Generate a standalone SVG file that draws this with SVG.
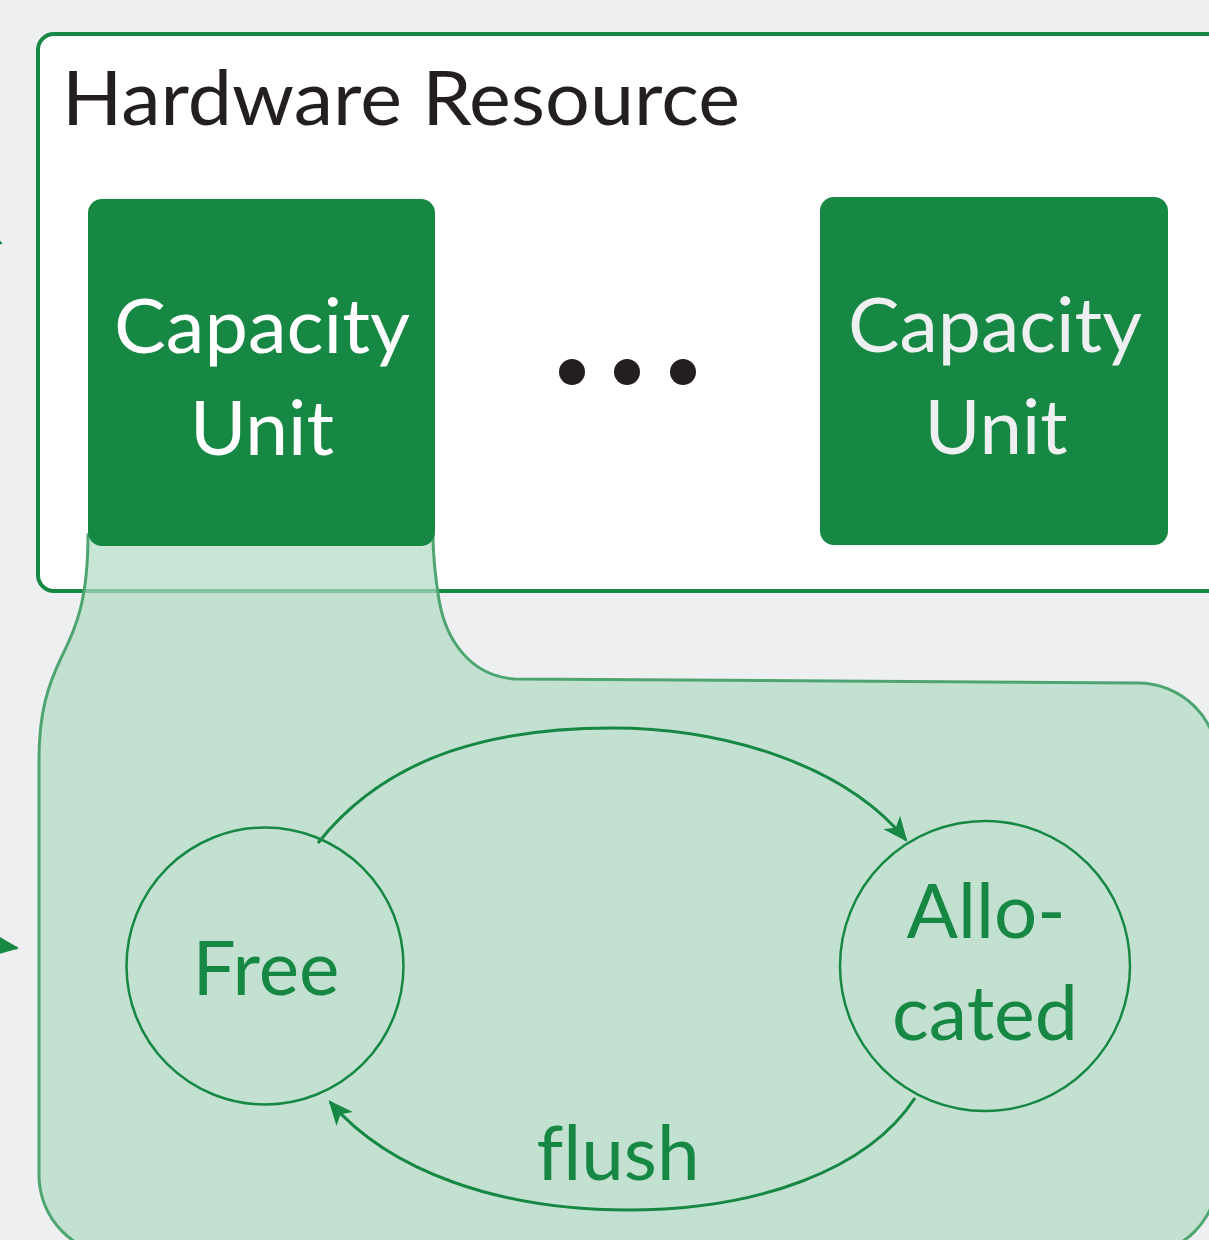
<svg xmlns="http://www.w3.org/2000/svg" width="1209" height="1240" viewBox="0 0 1209 1240">
  <style>
    .lbl { font-family: Lato, "Open Sans", "Liberation Sans", sans-serif; font-size: 76px; text-anchor: middle; font-variant-ligatures: none; }
    .unit { fill: #168844; }
    .state { fill: none; stroke: #168844; stroke-width: 2.5; }
    .edge { fill: none; stroke: #168844; stroke-width: 3; }
  </style>
  <defs>
    <marker id="arrow" markerUnits="userSpaceOnUse" markerWidth="30" markerHeight="30" viewBox="-24 -12 28 24" refX="0" refY="0" orient="auto">
      <path d="M 2 0 L -21 -10 L -15 0 L -21 10 Z" fill="#168844"/>
    </marker>
  </defs>

  <!-- canvas -->
  <rect x="0" y="0" width="1209" height="1240" fill="#eeeff1"/>

  <!-- outer hardware container -->
  <g id="hardware-resource">
    <rect x="38" y="34" width="1200" height="557" rx="16" fill="#ffffff" stroke="#168844" stroke-width="4"/>
    <text x="62" y="125" font-family="Lato, 'Open Sans', 'Liberation Sans', sans-serif" font-size="76" fill="#231f20" textLength="678" lengthAdjust="spacingAndGlyphs">Hardware Resource</text>
  </g>

  <!-- magnified view of one unit -->
  <g id="unit-detail">
    <path d="M 88 535 C 88 600 76 628 62 656 C 48 685 39 712 39 760 L 39 1175 A 80 80 0 0 0 119 1255 L 1138 1255 A 80 80 0 0 0 1218 1175 L 1218 763 A 80 80 0 0 0 1138 683 L 515 679 C 470 676 446 640 439 600 C 435 575 433 555 433 535 Z" fill="#b0dbc3" fill-opacity="0.7" stroke="#4fa571" stroke-width="3"/>
  </g>

  <g id="capacity-unit-1">
    <rect class="unit" x="88" y="199" width="347" height="347" rx="14"/>
    <text class="lbl" x="262" y="353" fill="#ffffff" textLength="296" lengthAdjust="spacingAndGlyphs">Capacity</text>
    <text class="lbl" x="262" y="455" fill="#ffffff" textLength="144" lengthAdjust="spacingAndGlyphs">Unit</text>
  </g>

  <g id="ellipsis">
    <circle cx="572" cy="372" r="13" fill="#231f20"/>
    <circle cx="627" cy="372" r="13" fill="#231f20"/>
    <circle cx="683" cy="372" r="13" fill="#231f20"/>
  </g>

  <g id="capacity-unit-n">
    <rect class="unit" x="820" y="197" width="348" height="348" rx="14"/>
    <text class="lbl" x="995" y="352" fill="#eeeff1" textLength="294" lengthAdjust="spacingAndGlyphs">Capacity</text>
    <text class="lbl" x="996" y="454" fill="#eeeff1" textLength="143" lengthAdjust="spacingAndGlyphs">Unit</text>
  </g>

  <g id="state-free">
    <circle class="state" cx="265" cy="966" r="138.5"/>
    <text class="lbl" x="266" y="995" fill="#168844" textLength="147" lengthAdjust="spacingAndGlyphs">Free</text>
  </g>

  <g id="state-allocated">
    <circle class="state" cx="985" cy="966" r="145"/>
    <text class="lbl" x="986" y="938" fill="#168844" textLength="159" lengthAdjust="spacingAndGlyphs">Allo-</text>
    <text class="lbl" x="985" y="1040" fill="#168844" textLength="186" lengthAdjust="spacingAndGlyphs">cated</text>
  </g>

  <g id="connectors">
    <path class="edge" d="M 318 843 C 390 752 500 728 612 728 C 725 728 845 765 906 840" marker-end="url(#arrow)"/>
    <path class="edge" d="M 915 1098 C 868 1170 758 1210 628 1210 C 500 1210 390 1172 330 1102" marker-end="url(#arrow)"/>
    <text class="lbl" x="618" y="1180" fill="#168844" textLength="163" lengthAdjust="spacingAndGlyphs">flush</text>
    <!-- incoming links from the left margin -->
    <path class="edge" d="M -30 236 L 1 243" marker-end="url(#arrow)"/>
    <path class="edge" d="M -30 942 L 17 948" marker-end="url(#arrow)"/>
  </g>
</svg>
